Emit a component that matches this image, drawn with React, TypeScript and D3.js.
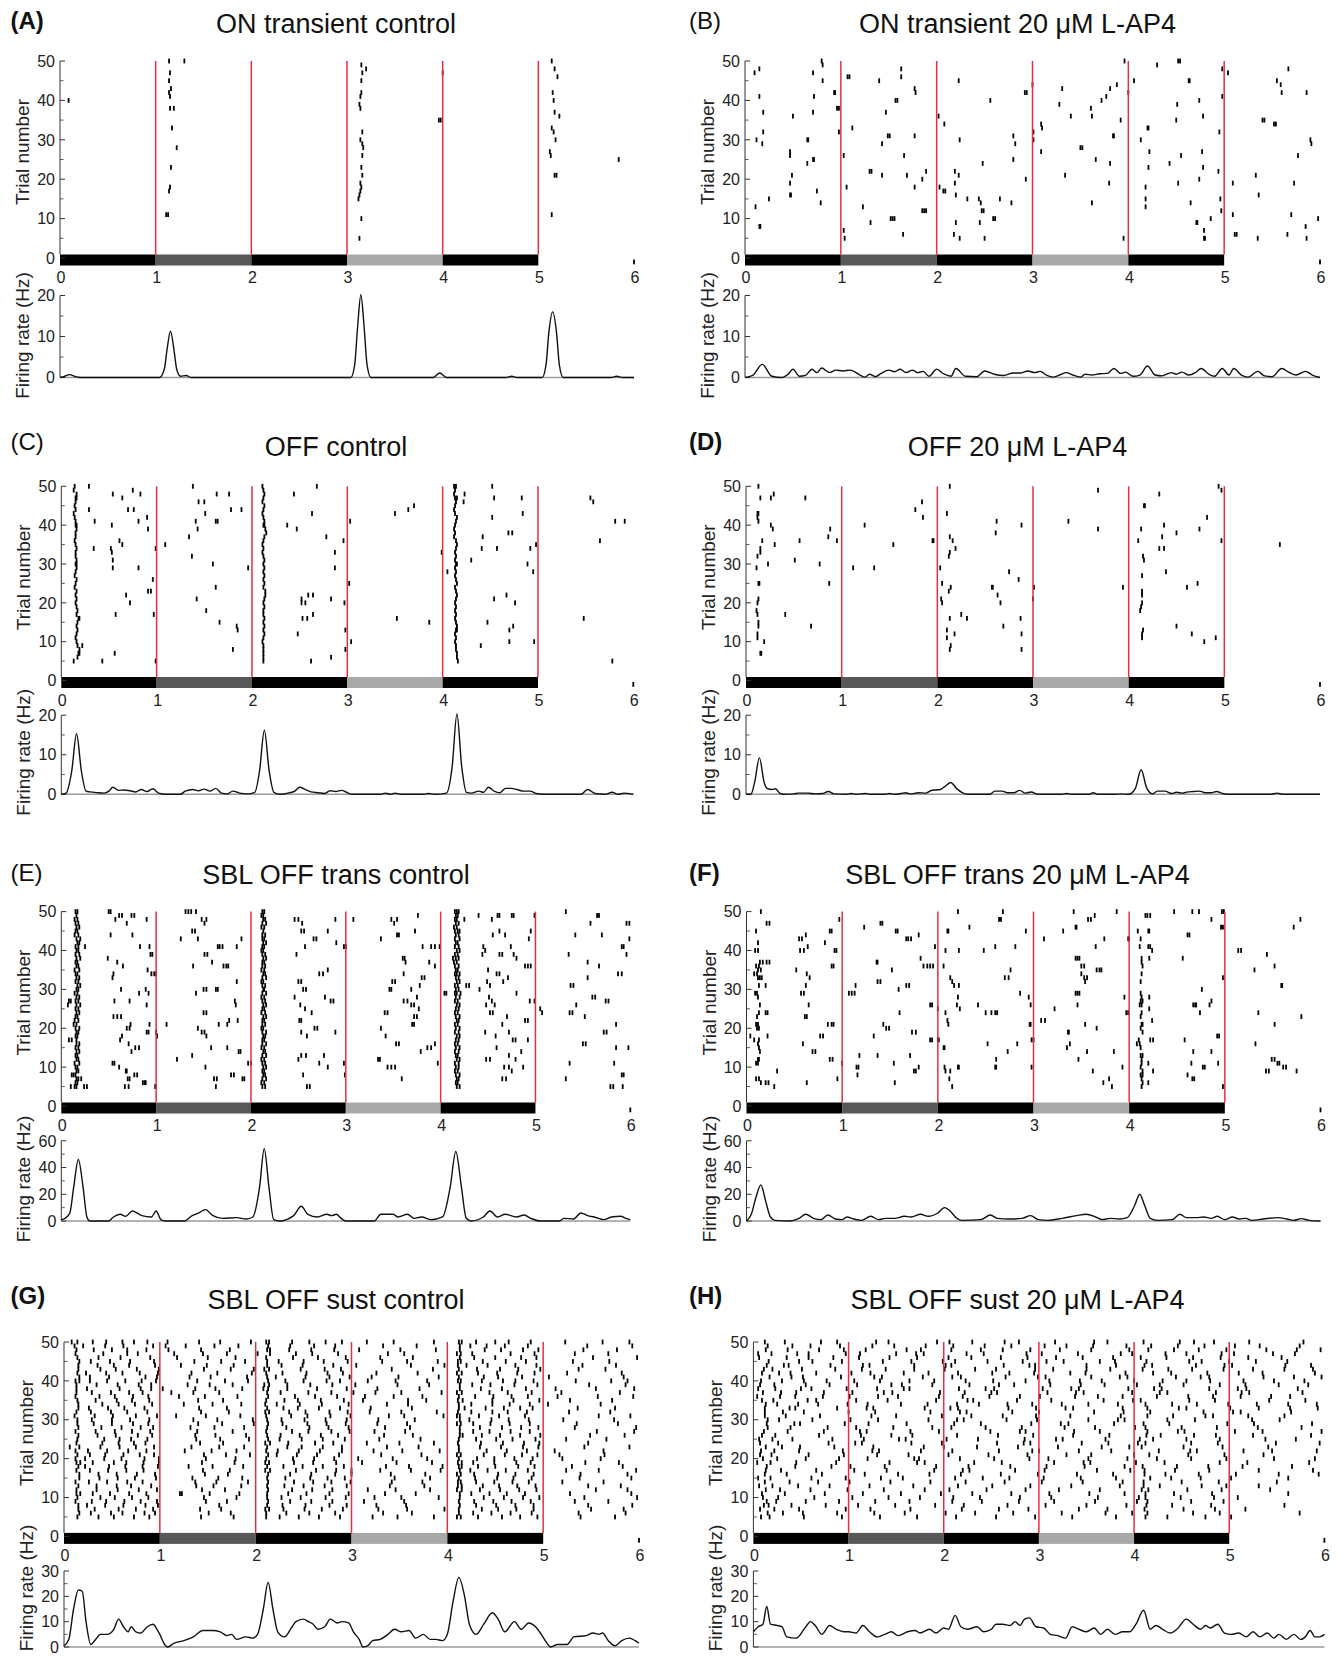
import React from 'react'
import * as d3 from 'd3'

type Pt = [number, number]
type Row = [number, number[]]

// ---------- shared axis values ----------
const timeTicks = [0, 1, 2, 3, 4, 5, 6]
const trialTicks = [0, 10, 20, 30, 40, 50]
const trialMinor = [5, 15, 25, 35, 45]
const stimEdges = [1, 2, 3, 4, 5]
const stimSteps: { from: number; to: number; level: string }[] = [
  { from: 0, to: 1, level: 'dark' },
  { from: 1, to: 2, level: 'mid' },
  { from: 2, to: 3, level: 'dark' },
  { from: 3, to: 4, level: 'light' },
  { from: 4, to: 5, level: 'dark' },
]

// ---------- (A) ON transient control ----------
const spikesA: Pt[] = [
  [0.09, 40], [1.14, 50], [1.3, 50], [1.15, 47], [1.14, 45], [1.16, 43], [1.14, 42], [1.15, 41], [1.15, 38], [1.19, 38],
  [1.17, 33], [1.22, 28], [1.16, 23], [1.15, 18], [1.14, 17], [1.11, 11], [1.13, 11],
  [3.15, 49], [3.2, 48], [3.16, 47], [3.15, 45], [3.15, 42], [3.14, 41], [3.13, 39], [3.14, 38], [3.16, 32], [3.14, 30],
  [3.16, 29], [3.17, 28], [3.16, 26], [3.15, 23], [3.16, 21], [3.14, 19], [3.15, 18], [3.14, 17], [3.13, 16], [3.12, 15],
  [3.15, 10], [3.13, 5], [4.0, 47], [3.96, 35], [3.98, 35],
  [5.14, 50], [5.17, 48], [5.2, 46], [5.15, 42], [5.16, 40], [5.17, 37], [5.22, 36], [5.14, 33], [5.16, 32], [5.18, 30],
  [5.12, 27], [5.13, 26], [5.17, 21], [5.19, 21], [5.14, 11], [5.84, 25], [6.0, -1],
]
const rateA: Pt[] = [
  [0, 0], [0.04, 0.2], [0.1, 0.7], [0.16, 0.2], [0.22, 0], [1.04, 0], [1.09, 2], [1.12, 7], [1.155, 11.3], [1.19, 7],
  [1.22, 2], [1.26, 0.3], [1.32, 0.5], [1.37, 0], [3.04, 0], [3.08, 3], [3.11, 12], [3.145, 20.2], [3.18, 12], [3.21, 3],
  [3.25, 0], [3.9, 0], [3.97, 1.1], [4.04, 0], [4.66, 0], [4.72, 0.3], [4.78, 0], [5.04, 0], [5.08, 3], [5.11, 11],
  [5.15, 16], [5.19, 11], [5.22, 3], [5.26, 0], [5.76, 0], [5.82, 0.3], [5.88, 0], [6, 0],
]

// ---------- (B) ON transient 20 µM L-AP4 ----------
const spikesB: Pt[] = [
  [0.1, 47], [0.15, 48], [0.15, 41], [0.19, 37], [0.19, 32], [0.12, 30], [0.18, 29], [0.11, 13], [0.15, 8], [0.16, 8],
  [0.25, 15], [0.5, 36], [0.47, 27], [0.47, 26], [0.49, 21], [0.47, 19], [0.47, 16], [0.48, 16], [0.65, 30], [0.66, 30],
  [0.65, 24], [0.71, 47], [0.72, 41], [0.71, 37], [0.71, 25], [0.72, 25], [0.75, 17], [0.79, 14], [0.8, 50], [0.81, 49],
  [0.81, 45], [0.93, 42], [0.94, 42], [0.96, 38], [0.98, 38], [0.98, 32], [1.03, 26], [1.07, 46], [1.09, 46], [1.06, 18],
  [1.03, 7], [1.04, 5], [1.12, 33], [1.23, 13], [1.3, 22], [1.32, 22], [1.31, 9], [1.4, 45], [1.47, 37], [1.43, 29],
  [1.49, 31], [1.51, 31], [1.43, 21], [1.52, 10], [1.54, 10], [1.56, 10], [1.57, 40], [1.59, 40], [1.63, 48], [1.63, 46],
  [1.65, 6], [1.66, 26], [1.69, 21], [1.77, 43], [1.78, 42], [1.77, 31], [1.77, 18], [1.85, 20], [1.89, 22], [1.85, 12],
  [1.87, 12], [1.89, 12], [2.02, 36], [2.03, 18], [2.07, 17], [2.09, 17], [2.08, 34], [2.19, 22], [2.19, 19], [2.2, 16],
  [2.2, 9], [2.18, 6], [2.23, 45], [2.24, 30], [2.23, 21], [2.24, 5], [2.32, 15], [2.44, 15], [2.46, 14], [2.48, 24],
  [2.47, 12], [2.49, 12], [2.45, 9], [2.5, 5], [2.56, 40], [2.59, 10], [2.61, 10], [2.66, 15], [2.78, 14], [2.8, 31],
  [2.82, 29], [2.8, 25], [2.93, 20], [2.92, 42], [2.94, 42], [3.0, 44], [3.01, 32], [3.01, 30], [3.09, 34], [3.1, 33],
  [3.09, 27], [3.28, 39], [3.31, 43], [3.34, 21], [3.4, 36], [3.5, 28], [3.52, 28], [3.61, 38], [3.62, 36], [3.62, 14],
  [3.66, 25], [3.72, 40], [3.77, 41], [3.81, 43], [3.88, 44], [3.84, 31], [3.85, 31], [3.81, 24], [3.8, 19], [3.92, 35],
  [3.95, 5], [3.96, 50], [4.0, 42], [4.06, 45], [4.13, 30], [4.2, 33], [4.21, 33], [4.22, 27], [4.21, 23], [4.18, 18],
  [4.18, 15], [4.18, 13], [4.3, 49], [4.43, 24], [4.52, 19], [4.52, 50], [4.54, 50], [4.55, 26], [4.51, 39], [4.5, 35],
  [4.63, 45], [4.64, 45], [4.65, 14], [4.71, 9], [4.72, 9], [4.74, 40], [4.74, 20], [4.77, 27], [4.78, 36], [4.78, 23],
  [4.79, 7], [4.79, 5], [4.8, 5], [4.86, 10], [4.94, 22], [4.95, 32], [4.96, 15], [4.97, 12], [4.98, 48], [4.98, 41],
  [5.04, 47], [5.09, 19], [5.09, 11], [5.11, 6], [5.13, 6], [5.33, 21], [5.35, 5], [5.36, 16], [5.4, 35], [5.42, 35],
  [5.52, 34], [5.54, 34], [5.55, 45], [5.59, 44], [5.6, 42], [5.67, 48], [5.66, 6], [5.7, 11], [5.73, 19], [5.77, 26],
  [5.85, 8], [5.86, 42], [5.86, 5], [5.9, 30], [5.91, 29], [5.98, 10], [6.0, -1],
]
const rateB: Pt[] = [
  [0, 0], [0.08, 0.5], [0.18, 3.2], [0.28, 0.3], [0.38, 0], [0.45, 0.8], [0.5, 2], [0.57, 0.3], [0.63, 0.5], [0.7, 2],
  [0.75, 1.2], [0.8, 2.3], [0.88, 1.2], [0.95, 1.8], [1.02, 1.6], [1.1, 1.8], [1.2, 0.6], [1.25, 0.1], [1.3, 0.8], [1.36, 0.2],
  [1.42, 1], [1.5, 1.8], [1.56, 1.4], [1.62, 2], [1.68, 1.2], [1.75, 1.8], [1.8, 1.2], [1.86, 1.5], [1.92, 0.3], [2.0, 2],
  [2.08, 0.8], [2.15, 0.3], [2.2, 2.2], [2.3, 0.3], [2.42, 0.2], [2.5, 1.6], [2.6, 0.8], [2.7, 0.5], [2.8, 1.1], [2.88, 1.1],
  [2.95, 1.6], [3.02, 1.2], [3.08, 1.5], [3.15, 0.5], [3.22, 0.1], [3.3, 0.8], [3.35, 1.2], [3.42, 0.6], [3.5, 0.1], [3.55, 0.8],
  [3.62, 0.6], [3.7, 0.9], [3.78, 1], [3.85, 2.2], [3.92, 1], [3.97, 1.3], [4.05, 0.3], [4.12, 0.6], [4.2, 2.8], [4.28, 0.6],
  [4.35, 0.4], [4.45, 1.2], [4.5, 0.8], [4.56, 1.3], [4.63, 0.6], [4.7, 1.2], [4.76, 2.2], [4.84, 0.8], [4.9, 0.3], [4.98, 2.2],
  [5.05, 0.6], [5.1, 2.2], [5.18, 0.6], [5.25, 0.1], [5.35, 1.5], [5.42, 0.4], [5.5, 0.2], [5.6, 2.2], [5.68, 1.2], [5.75, 0.6],
  [5.85, 1.5], [5.92, 0.6], [6, 0],
]

// ---------- (C) OFF control ----------
const spikesC: Pt[] = [
  [0.29, 50], [0.54, 48], [0.64, 47], [0.75, 49], [0.83, 48], [0.29, 44], [0.7, 44], [0.76, 44], [0.35, 41], [0.53, 40],
  [0.81, 41], [0.9, 42], [0.91, 39], [0.61, 36], [0.64, 35], [0.34, 34], [0.52, 34], [0.53, 33], [0.54, 31], [0.54, 29],
  [0.81, 29], [0.96, 26], [0.91, 23], [0.94, 23], [0.68, 22], [0.72, 20], [0.57, 17], [0.22, 9], [0.56, 7], [0.43, 5],
  [0.97, 17], [0.99, 34], [0.99, 5], [1.09, 35], [1.38, 50], [1.63, 48], [1.76, 48], [1.44, 46], [1.5, 46], [1.51, 43],
  [1.78, 44], [1.89, 44], [1.62, 41], [1.64, 41], [1.41, 41], [1.43, 39], [1.34, 37], [1.37, 32], [1.59, 30], [1.62, 24],
  [1.42, 21], [1.52, 18], [1.66, 15], [1.85, 13], [1.84, 14], [1.8, 8], [1.96, 29], [2.37, 40], [2.44, 48], [2.47, 39],
  [2.63, 43], [2.68, 50], [2.78, 37], [2.87, 33], [2.87, 29], [2.96, 36], [2.59, 22], [2.64, 22], [2.52, 21], [2.52, 20],
  [2.56, 20], [2.83, 21], [2.53, 16], [2.58, 16], [2.64, 17], [2.48, 12], [2.62, 5], [2.83, 6], [2.97, 20], [2.98, 13],
  [3.03, 41], [3.02, 25], [3.04, 10], [2.98, 8], [3.5, 43], [3.64, 44], [3.7, 45], [3.52, 16], [3.86, 15], [3.99, 33],
  [4.05, 28], [4.23, 48], [4.22, 46], [4.52, 50], [4.54, 47], [4.52, 42], [4.83, 47], [4.84, 43], [4.42, 37], [4.41, 34],
  [4.57, 34], [4.69, 38], [4.73, 38], [4.3, 31], [4.89, 30], [4.95, 28], [4.92, 34], [4.98, 35], [4.54, 21], [4.67, 22],
  [4.76, 20], [4.47, 15], [4.7, 13], [4.74, 14], [4.7, 10], [4.96, 10], [4.4, 9], [5.55, 47], [5.58, 46], [5.65, 36],
  [5.81, 41], [5.91, 41], [5.48, 16], [5.78, 5], [6.0, -1],
]
const burstsC: Row[] = [
  [50, [0.14, 2.11, 4.12, 4.14]], [49, [0.13, 2.12, 4.13]], [48, [0.16, 2.13, 4.12]], [47, [0.15, 0.16, 2.12, 4.13, 4.15]],
  [46, [0.15, 2.11, 4.14]], [45, [0.14, 2.13, 4.13]], [44, [0.15, 2.12, 4.12]], [43, [0.13, 2.11, 4.13]],
  [42, [0.14, 2.12, 4.15]], [41, [0.15, 2.13, 4.14]], [40, [0.15, 0.16, 2.12, 2.13, 4.13]], [39, [0.16, 2.14, 4.12]],
  [38, [0.15, 2.15, 4.13]], [37, [0.15, 2.13, 4.12]], [36, [0.14, 2.12, 4.14]], [35, [0.15, 2.11, 4.15]],
  [34, [0.16, 2.12, 4.14]], [33, [0.15, 2.11, 4.13]], [32, [0.15, 2.12, 4.14]], [31, [0.16, 2.13, 4.13]],
  [30, [0.15, 0.16, 2.12, 4.14, 4.15]], [29, [0.16, 2.13, 4.13]], [28, [0.15, 2.12, 4.14]], [27, [0.14, 2.13, 4.13]],
  [26, [0.16, 2.12, 4.14]], [25, [0.15, 2.13, 4.15]], [24, [0.14, 2.12, 4.13]], [23, [0.16, 2.14, 4.14]],
  [22, [0.15, 2.14, 4.15]], [21, [0.16, 2.13, 4.14]], [20, [0.15, 2.12, 4.13]], [19, [0.16, 2.13, 4.14]],
  [18, [0.17, 2.12, 4.13]], [17, [0.16, 2.12, 4.14]], [16, [0.18, 0.19, 2.13, 4.13]], [15, [0.17, 2.12, 4.14]],
  [14, [0.16, 2.13, 4.15]], [13, [0.17, 2.12, 4.14, 4.15]], [12, [0.16, 2.13, 4.13]], [11, [0.15, 2.12, 4.14]],
  [10, [0.16, 2.11, 4.13]], [9, [0.17, 2.12, 4.14]], [8, [0.19, 2.12, 4.14]], [7, [0.18, 0.19, 2.12, 4.15]],
  [6, [0.17, 2.12, 4.15]], [5, [0.13, 2.12, 4.16]],
]
const rateC: Pt[] = [
  [0, 0], [0.05, 0.3], [0.11, 6], [0.16, 15.3], [0.21, 6], [0.26, 0.8], [0.3, 0.6], [0.38, 0.4], [0.45, 0.3], [0.5, 0.8],
  [0.54, 1.8], [0.6, 1.0], [0.66, 1.1], [0.72, 0.9], [0.78, 0.6], [0.84, 1.2], [0.9, 0.7], [0.96, 1.4], [1.02, 0.3], [1.1, 0],
  [1.25, 0], [1.3, 0.8], [1.38, 1.2], [1.44, 0.9], [1.5, 1.3], [1.56, 0.8], [1.62, 1.5], [1.68, 0.3], [1.74, 0.1], [1.8, 0.8],
  [1.87, 0.3], [1.95, 0.1], [2.03, 0.5], [2.08, 6], [2.13, 16.2], [2.18, 6], [2.23, 0.5], [2.3, 0], [2.38, 0.3], [2.45, 0.8],
  [2.5, 1.8], [2.56, 1.2], [2.62, 0.6], [2.7, 0.4], [2.76, 0.2], [2.82, 0.9], [2.88, 0.7], [2.94, 1.0], [3.0, 0.4], [3.05, 0],
  [3.35, 0], [3.4, 0.3], [3.46, 0], [3.5, 0.3], [3.56, 0], [3.8, 0], [3.85, 0.2], [3.92, 0], [4.04, 0.3], [4.1, 7],
  [4.15, 20.3], [4.2, 7], [4.25, 0.5], [4.3, 0.3], [4.38, 0.8], [4.43, 0.5], [4.48, 1.8], [4.54, 0.8], [4.6, 0.4], [4.66, 1.5],
  [4.72, 1.5], [4.78, 1.2], [4.85, 0.8], [4.92, 0.8], [4.98, 0.2], [5.05, 0], [5.45, 0], [5.52, 1.2], [5.6, 0.2], [5.7, 0],
  [5.78, 0.5], [5.84, 0], [5.9, 0.3], [6.0, 0],
]

// ---------- (D) OFF 20 µM L-AP4 ----------
const spikesD: Pt[] = [
  [0.13, 50], [0.15, 47], [0.12, 43], [0.13, 43], [0.12, 42], [0.13, 41], [0.17, 36], [0.15, 34], [0.15, 33], [0.12, 32],
  [0.11, 29], [0.13, 25], [0.14, 25], [0.13, 21], [0.12, 20], [0.11, 18], [0.12, 17], [0.13, 15], [0.13, 14], [0.12, 12],
  [0.12, 11], [0.15, 7], [0.16, 7], [0.19, 10], [0.29, 48], [0.26, 47], [0.26, 40], [0.28, 39], [0.3, 35], [0.23, 30],
  [0.56, 36], [0.51, 31], [0.62, 47], [0.77, 30], [0.87, 25], [0.86, 37], [0.88, 39], [0.95, 36], [0.41, 17], [0.68, 14],
  [1.12, 29], [1.24, 40], [1.34, 29], [1.54, 35], [1.77, 44], [1.84, 46], [1.85, 42], [1.95, 36], [1.96, 36],
  [2.13, 50], [2.1, 43], [2.13, 37], [2.16, 36], [2.19, 34], [2.13, 33], [2.12, 32], [2.03, 29], [2.05, 25], [2.14, 24],
  [2.12, 23], [2.05, 20], [2.04, 21], [2.13, 16], [2.1, 13], [2.1, 11], [2.14, 9], [2.13, 8], [2.18, 12], [2.25, 17],
  [2.31, 16], [2.62, 41], [2.61, 38], [2.88, 40], [2.75, 28], [2.85, 26], [2.57, 24], [2.58, 24], [2.63, 22], [2.66, 20],
  [2.69, 14], [2.87, 16], [2.88, 12], [2.88, 8], [3.01, 24], [3.0, 21], [3.37, 41], [3.68, 49], [3.68, 39], [3.94, 24],
  [4.16, 45], [4.17, 45], [4.13, 39], [4.1, 36], [4.15, 32], [4.16, 31], [4.14, 27], [4.14, 23], [4.14, 22], [4.14, 20],
  [4.13, 19], [4.12, 18], [4.15, 13], [4.14, 12], [4.14, 11], [4.32, 48], [4.37, 40], [4.35, 37], [4.32, 34], [4.37, 34],
  [4.39, 28], [4.5, 38], [4.5, 14], [4.66, 12], [4.72, 25], [4.61, 24], [4.74, 39], [4.82, 42], [4.79, 10], [4.91, 11],
  [4.94, 50], [4.97, 49], [4.97, 36], [5.58, 35], [6.0, -1],
]
const rateD: Pt[] = [
  [0, 0], [0.05, 0], [0.09, 3], [0.14, 9.2], [0.19, 3], [0.22, 1.5], [0.27, 1.2], [0.31, 1.4], [0.35, 0.3], [0.4, 0],
  [0.5, 0.1], [0.55, 0.3], [0.65, 0.3], [0.72, 0.1], [0.8, 0.2], [0.86, 0.7], [0.92, 0.1], [1.05, 0], [1.1, 0.2], [1.15, 0],
  [1.25, 0.2], [1.3, 0], [1.45, 0], [1.5, 0.2], [1.55, 0], [1.62, 0.2], [1.67, 0.4], [1.72, 0.1], [1.8, 0.4], [1.88, 0.3],
  [1.93, 0.9], [1.98, 1.1], [2.03, 1.2], [2.07, 1.8], [2.14, 3.0], [2.2, 1.5], [2.26, 0.4], [2.32, 0], [2.55, 0], [2.6, 0.8],
  [2.68, 0.8], [2.73, 0.4], [2.8, 0.4], [2.86, 1.0], [2.92, 0.3], [2.98, 0.6], [3.05, 0], [3.3, 0], [3.35, 0.2], [3.4, 0],
  [3.58, 0], [3.63, 0.4], [3.68, 0], [3.85, 0], [3.92, 0.1], [4.0, 0], [4.07, 1.5], [4.13, 6.2], [4.19, 1.5], [4.25, 0.1],
  [4.3, 0.8], [4.38, 0.8], [4.45, 0.2], [4.5, 0.5], [4.56, 0.3], [4.62, 0.6], [4.68, 0.7], [4.74, 0.8], [4.8, 0.4], [4.86, 0.4],
  [4.92, 0.7], [4.97, 0.3], [5.02, 0], [5.48, 0], [5.55, 0.3], [5.62, 0], [6, 0],
]

// ---------- (E) SBL OFF trans control ----------
const spikesE: Pt[] = [
  [0.5, 50], [0.52, 50], [0.61, 49], [0.64, 49], [0.74, 49], [0.77, 49], [0.9, 48], [0.57, 48], [0.69, 47], [0.52, 44],
  [0.75, 44], [0.83, 41], [0.93, 41], [0.94, 39], [0.96, 39], [0.49, 38], [0.59, 37], [0.65, 36], [0.55, 34], [0.91, 35],
  [0.95, 34], [0.98, 34], [0.54, 33], [0.63, 30], [0.89, 30], [0.92, 29], [0.82, 29], [0.56, 27], [0.72, 27], [0.55, 23],
  [0.59, 23], [0.63, 23], [0.9, 26], [0.73, 21], [0.69, 20], [0.72, 20], [0.93, 21], [0.9, 19], [0.92, 19], [0.64, 18],
  [0.62, 17], [0.71, 16], [0.78, 15], [0.82, 15], [0.74, 14], [0.54, 11], [0.56, 11], [0.61, 10], [0.68, 9], [0.69, 9],
  [0.77, 8], [0.8, 8], [0.7, 7], [0.72, 7], [0.86, 6], [0.88, 6], [0.67, 5], [0.71, 5], [0.89, 6], [0.24, 5],
  [0.27, 5], [0.1, 5], [0.99, 5], [1.0, 34], [1.0, 19], [1.01, 18],
  [1.31, 50], [1.34, 50], [1.37, 50], [1.42, 50], [1.48, 48], [1.53, 48], [1.51, 47], [1.38, 45], [1.41, 45], [1.26, 43],
  [1.44, 43], [1.65, 41], [1.67, 41], [1.7, 41], [1.85, 41], [1.9, 43], [1.51, 39], [1.54, 39], [1.59, 37], [1.39, 36],
  [1.71, 36], [1.74, 36], [1.76, 36], [1.85, 32], [1.5, 30], [1.53, 30], [1.63, 30], [1.65, 30], [1.42, 29], [1.83, 27],
  [1.84, 26], [1.5, 24], [1.53, 24], [1.66, 21], [1.75, 21], [1.77, 22], [1.86, 22], [1.44, 20], [1.48, 19], [1.51, 19],
  [1.53, 18], [1.11, 21], [1.22, 12], [1.38, 13], [1.58, 15], [1.75, 15], [1.87, 14], [1.89, 14], [1.52, 10], [1.61, 7],
  [1.64, 7], [1.79, 8], [1.82, 8], [1.91, 7], [1.93, 7], [1.63, 5], [1.97, 11], [2.0, 11],
  [2.46, 48], [2.5, 48], [2.54, 47], [2.53, 45], [2.56, 45], [2.66, 43], [2.69, 43], [2.81, 45], [2.89, 48], [2.9, 42],
  [2.98, 41], [2.48, 39], [2.57, 41], [2.72, 34], [2.76, 34], [2.81, 35], [2.5, 32], [2.53, 32], [2.55, 30], [2.58, 30],
  [2.46, 28], [2.52, 26], [2.78, 28], [2.84, 27], [2.87, 27], [2.57, 25], [2.64, 24], [2.51, 22], [2.53, 22], [2.53, 19],
  [2.59, 18], [2.67, 20], [2.7, 20], [2.89, 19], [2.5, 12], [2.53, 13], [2.58, 13], [2.72, 11], [2.81, 10], [2.77, 13],
  [2.98, 11], [2.55, 8], [2.59, 5], [2.62, 5], [2.99, 8], [3.0, 41],
  [3.08, 48], [3.48, 48], [3.51, 47], [3.54, 48], [3.76, 49], [3.73, 45], [3.54, 44], [3.56, 44], [3.37, 43], [3.81, 41],
  [3.9, 41], [3.94, 41], [3.6, 38], [3.62, 38], [3.63, 37], [3.88, 37], [3.94, 36], [3.61, 34], [3.8, 33], [3.83, 33],
  [3.49, 32], [3.52, 32], [3.78, 31], [3.46, 30], [3.48, 30], [3.69, 30], [3.75, 28], [3.61, 27], [3.65, 27], [3.69, 26],
  [3.72, 26], [3.77, 25], [3.41, 24], [3.44, 24], [3.72, 23], [3.75, 23], [3.7, 21], [3.72, 21], [3.37, 20], [3.42, 18],
  [3.53, 16], [3.56, 16], [3.79, 14], [3.86, 15], [3.9, 15], [3.94, 16], [3.34, 12], [3.36, 12], [3.44, 10], [3.48, 10],
  [3.52, 10], [3.59, 7], [3.97, 11], [3.99, 41], [4.04, 29], [4.06, 29],
  [4.25, 48], [4.4, 49], [4.54, 48], [4.6, 49], [4.62, 49], [4.75, 49], [4.77, 49], [4.62, 45], [4.55, 44], [4.68, 44],
  [4.45, 41], [4.74, 41], [4.93, 43], [4.95, 45], [4.44, 39], [4.47, 40], [4.62, 39], [4.65, 39], [4.77, 39], [4.8, 38],
  [4.89, 36], [4.92, 36], [4.95, 36], [4.5, 35], [4.59, 34], [4.62, 34], [4.49, 32], [4.71, 33], [4.27, 31], [4.3, 31],
  [4.41, 30], [4.52, 31], [4.66, 32], [4.8, 29], [4.51, 28], [4.54, 27], [4.57, 26], [4.94, 27], [4.99, 27], [4.48, 26],
  [4.52, 24], [4.55, 24], [4.7, 23], [4.89, 22], [4.92, 22], [4.65, 21], [4.47, 19], [4.72, 19], [4.58, 18], [4.76, 17],
  [4.79, 17], [4.92, 17], [4.59, 15], [4.85, 14], [4.48, 12], [4.52, 12], [4.72, 13], [4.79, 12], [4.67, 10], [4.72, 10],
  [4.75, 9], [4.87, 10], [4.65, 7], [4.69, 7], [4.99, 49],
  [5.32, 50], [5.65, 49], [5.67, 49], [5.96, 47], [5.99, 47], [5.58, 47], [5.42, 44], [5.7, 44], [5.99, 43], [5.91, 41],
  [5.93, 41], [5.96, 39], [5.35, 39], [5.55, 37], [5.67, 36], [5.87, 34], [5.91, 34], [5.55, 33], [5.37, 31], [5.4, 31],
  [5.6, 28], [5.63, 28], [5.74, 27], [5.77, 27], [5.43, 26], [5.36, 24], [5.39, 24], [5.52, 23], [5.85, 21], [5.72, 19],
  [5.75, 19], [5.5, 16], [5.53, 16], [5.85, 15], [5.98, 15], [5.36, 11], [5.83, 11], [5.91, 8], [5.93, 8], [5.32, 7],
  [5.79, 5], [5.82, 5], [5.92, 5], [5.05, 25], [5.07, 24], [6.0, -1],
]
const burstsE: Row[] = [
  [50, [0.15, 0.17, 2.12, 2.14, 4.15, 4.17, 4.19]], [49, [0.16, 2.11, 2.13, 4.16, 4.18]], [48, [0.14, 0.17, 2.13, 2.15, 4.15, 4.17]],
  [47, [0.15, 0.18, 2.12, 2.16, 4.16, 4.19]], [46, [0.16, 0.19, 2.11, 2.14, 4.14, 4.17]], [45, [0.15, 0.17, 2.13, 4.15, 4.18, 4.2]],
  [44, [0.14, 0.18, 2.12, 2.15, 4.16, 4.19]], [43, [0.16, 0.2, 2.12, 2.14, 4.15, 4.2]], [42, [0.17, 0.19, 2.13, 2.16, 4.16, 4.18]],
  [41, [0.15, 0.18, 0.25, 2.12, 2.14, 4.15, 4.19]], [40, [0.16, 0.18, 2.11, 2.13, 4.17, 4.2]], [39, [0.15, 0.19, 2.12, 2.15, 4.15, 4.18]],
  [38, [0.16, 0.2, 2.13, 2.16, 4.13, 4.16, 4.19]], [37, [0.15, 0.17, 2.12, 2.14, 4.14, 4.17]], [36, [0.16, 0.18, 2.12, 2.15, 4.15, 4.19]],
  [35, [0.14, 0.19, 2.11, 2.14, 4.16, 4.18]], [34, [0.15, 0.17, 2.13, 2.15, 4.15, 4.17, 4.2]], [33, [0.16, 0.19, 2.12, 2.16, 4.16, 4.19]],
  [32, [0.15, 0.18, 2.11, 2.13, 4.17, 4.2]], [31, [0.17, 0.2, 2.12, 2.15, 4.15, 4.18]], [30, [0.16, 0.18, 2.13, 2.14, 4.16, 4.19]],
  [29, [0.14, 0.17, 2.12, 2.16, 4.15, 4.17, 4.21]], [28, [0.16, 0.19, 2.11, 2.14, 4.16, 4.2]], [27, [0.08, 0.1, 0.15, 0.18, 2.12, 2.15, 4.15, 4.18]],
  [26, [0.07, 0.16, 0.2, 2.13, 2.16, 4.17, 4.2]], [25, [0.15, 0.18, 2.12, 2.14, 4.16, 4.19]], [24, [0.16, 0.19, 2.11, 2.15, 4.15, 4.18]],
  [23, [0.15, 0.17, 2.13, 2.16, 4.16, 4.2]], [22, [0.14, 0.18, 2.12, 2.14, 4.17, 4.19]], [21, [0.13, 0.16, 2.12, 2.15, 4.15, 4.18]],
  [20, [0.15, 0.19, 2.11, 2.13, 4.16, 4.2]], [19, [0.16, 0.18, 2.12, 2.16, 4.15, 4.19]], [18, [0.15, 0.17, 2.13, 2.15, 4.17, 4.2]],
  [17, [0.08, 0.11, 0.16, 2.12, 2.14, 4.16, 4.19]], [16, [0.16, 0.19, 2.12, 2.16, 4.15, 4.18]], [15, [0.15, 0.18, 2.11, 2.14, 4.16, 4.2]],
  [14, [0.16, 0.19, 2.13, 2.15, 4.15, 4.19]], [13, [0.15, 0.17, 2.12, 2.16, 4.16, 4.18]], [12, [0.16, 0.18, 2.11, 2.14, 4.17, 4.2]],
  [11, [0.14, 0.19, 2.12, 2.15, 4.15, 4.19]], [10, [0.15, 0.17, 2.13, 2.16, 4.16, 4.19]], [9, [0.16, 0.18, 2.12, 2.14, 4.15, 4.18]],
  [8, [0.11, 0.13, 0.15, 2.13, 2.15, 4.16, 4.2]], [7, [0.16, 0.18, 0.21, 2.12, 2.16, 4.17, 4.19]], [6, [0.15, 0.17, 2.11, 2.14, 4.16, 4.18]],
  [5, [0.14, 0.16, 2.12, 2.15, 4.17, 4.2]],
]
const rateE: Pt[] = [
  [0, 1], [0.04, 2], [0.09, 6], [0.13, 25], [0.18, 46], [0.23, 25], [0.27, 3], [0.3, 0], [0.5, 0], [0.55, 3],
  [0.62, 5], [0.68, 3.5], [0.75, 7.5], [0.85, 4], [0.95, 3], [1.0, 7.5], [1.05, 1], [1.1, 0], [1.3, 0], [1.38, 4],
  [1.45, 6], [1.52, 8.5], [1.6, 4], [1.7, 2], [1.85, 2.5], [1.95, 1.5], [2.02, 3], [2.09, 25], [2.14, 54], [2.19, 25],
  [2.24, 1], [2.3, 0], [2.45, 4], [2.53, 11], [2.6, 5], [2.7, 3], [2.8, 5], [2.85, 4], [2.9, 5], [2.95, 2],
  [3.0, 0], [3.3, 0], [3.37, 5], [3.5, 5], [3.55, 3], [3.65, 5], [3.72, 2], [3.8, 3], [3.9, 1], [4.02, 3],
  [4.1, 25], [4.16, 52], [4.22, 25], [4.27, 2], [4.32, 0], [4.45, 3], [4.52, 7.5], [4.6, 3], [4.68, 5], [4.8, 3],
  [4.88, 4.5], [4.95, 2], [5.05, 0], [5.25, 0], [5.3, 2], [5.4, 1.5], [5.48, 6], [5.55, 4], [5.62, 3], [5.72, 1],
  [5.8, 3], [5.9, 3.5], [5.95, 2], [6.0, 1],
]

// ---------- (F) SBL OFF trans 20 µM L-AP4 ----------
const spikesF: Pt[] = [
  [0.21, 47], [0.24, 47], [0.21, 37], [0.24, 37], [0.2, 31], [0.2, 24], [0.22, 24], [0.22, 18], [0.04, 18], [0.15, 50],
  [0.2, 6], [0.23, 6], [0.29, 5], [0.32, 9],
  [0.52, 35], [0.55, 43], [0.58, 43], [0.62, 44], [0.56, 40], [0.6, 40], [0.64, 41], [0.63, 34], [0.66, 33], [0.62, 31],
  [0.57, 29], [0.6, 29], [0.65, 26], [0.61, 23], [0.63, 23], [0.59, 16], [0.69, 14], [0.72, 14], [0.63, 6], [0.77, 18],
  [0.8, 18], [0.82, 42], [0.87, 45], [0.89, 45], [0.92, 40], [0.94, 40], [0.89, 36], [0.91, 36], [0.85, 21], [0.89, 21],
  [0.91, 21], [0.87, 12], [0.9, 12], [0.95, 7], [0.97, 48], [1.0, 11],
  [1.07, 29], [1.1, 29], [1.13, 29], [1.14, 31], [1.15, 10], [1.17, 10], [1.16, 8], [1.18, 13], [1.23, 46], [1.37, 13],
  [1.36, 37], [1.37, 37], [1.37, 32], [1.4, 32], [1.33, 18], [1.4, 47], [1.42, 47], [1.43, 21], [1.46, 20], [1.49, 20],
  [1.52, 35], [1.54, 11], [1.55, 6], [1.56, 45], [1.58, 45], [1.59, 30], [1.6, 24], [1.67, 31], [1.7, 31], [1.67, 43],
  [1.69, 43], [1.72, 43], [1.8, 44], [1.73, 19], [1.77, 19], [1.71, 13], [1.75, 9], [1.77, 9], [1.8, 10], [1.82, 38],
  [1.85, 36], [1.89, 36], [1.92, 36], [1.95, 36], [1.92, 17], [1.94, 17], [1.97, 41], [1.92, 26], [1.94, 26], [2.0, 25],
  [2.0, 17], [2.01, 17],
  [2.06, 36], [2.08, 40], [2.1, 45], [2.11, 45], [2.13, 33], [2.15, 32], [2.17, 31], [2.21, 28], [2.2, 26], [2.06, 15],
  [2.07, 15], [2.08, 24], [2.1, 22], [2.11, 21], [2.07, 10], [2.08, 9], [2.12, 7], [2.15, 5], [2.13, 9], [2.21, 10],
  [2.22, 10], [2.21, 50], [2.33, 46], [2.42, 26], [2.22, 40], [2.22, 31], [2.23, 25], [2.48, 40], [2.5, 24], [2.52, 16],
  [2.56, 24], [2.6, 24], [2.62, 24], [2.6, 41], [2.6, 10], [2.61, 10], [2.61, 12], [2.64, 48], [2.66, 48], [2.68, 50],
  [2.7, 33], [2.74, 33], [2.73, 14], [2.76, 35], [2.81, 41], [2.83, 16], [2.86, 29], [2.92, 45], [2.95, 28], [2.97, 26],
  [2.96, 21], [2.97, 21], [2.98, 17], [3.0, 17], [2.98, 10],
  [3.11, 43], [3.08, 22], [3.12, 22], [3.22, 25], [3.31, 45], [3.36, 19], [3.37, 19], [3.35, 15], [3.38, 16], [3.42, 50],
  [3.44, 46], [3.45, 46], [3.47, 12], [3.44, 38], [3.46, 38], [3.48, 38], [3.44, 29], [3.46, 29], [3.48, 29], [3.46, 26],
  [3.5, 36], [3.53, 36], [3.5, 34], [3.53, 33], [3.56, 33], [3.54, 32], [3.54, 21], [3.56, 14], [3.57, 48], [3.6, 48],
  [3.64, 49], [3.62, 9], [3.65, 41], [3.66, 20], [3.66, 35], [3.69, 35], [3.71, 35], [3.73, 6], [3.79, 7], [3.82, 5],
  [3.74, 43], [3.84, 14], [3.87, 50], [3.93, 10], [3.95, 28], [3.97, 24], [3.99, 24], [3.99, 43], [4.0, 43],
  [4.17, 49], [4.19, 49], [4.22, 49], [4.2, 41], [4.22, 41], [4.2, 45], [4.21, 45], [4.21, 38], [4.24, 40], [4.21, 28],
  [4.21, 25], [4.24, 22], [4.22, 17], [4.25, 17], [4.2, 11], [4.25, 9], [4.2, 6], [4.47, 50], [4.56, 38], [4.58, 17],
  [4.61, 44], [4.63, 44], [4.66, 50], [4.67, 26], [4.69, 26], [4.7, 26], [4.67, 14], [4.65, 11], [4.61, 8], [4.66, 7],
  [4.68, 7], [4.73, 50], [4.74, 24], [4.76, 30], [4.77, 10], [4.79, 10], [4.84, 26], [4.86, 27], [4.86, 14], [4.86, 48],
  [4.92, 18], [4.94, 18], [4.93, 11], [4.97, 50], [4.99, 50], [4.96, 46], [4.98, 46], [4.98, 5], [4.98, 33],
  [5.14, 40], [5.17, 40], [5.31, 35], [5.32, 16], [5.35, 24], [5.44, 39], [5.52, 36], [5.52, 21], [5.49, 12], [5.52, 12],
  [5.43, 9], [5.46, 9], [5.55, 11], [5.57, 11], [5.61, 10], [5.64, 10], [5.59, 31], [5.6, 31], [5.72, 46], [5.75, 9],
  [5.79, 48], [5.8, 23], [6.0, -1],
]
const burstsF: Row[] = [
  [45, [0.1, 4.09]], [43, [4.12]], [42, [0.12]], [41, [4.11]], [40, [0.09, 0.12]], [38, [4.13]], [37, [0.14, 0.17, 4.13]],
  [36, [0.1, 0.13, 4.14]], [35, [0.12, 0.15]], [34, [0.08, 0.11, 4.13]], [33, [0.12, 0.14, 0.16]], [32, [4.12]], [31, [0.13]],
  [29, [0.09, 0.11, 4.12]], [28, [0.12, 4.13]], [27, [4.12, 4.14]], [26, [0.14, 4.11, 4.13]], [24, [0.13, 4.13]], [23, [0.11, 4.12]],
  [21, [0.1, 0.12, 4.13, 4.14]], [20, [0.11, 0.13, 4.12]], [19, [4.14]], [17, [0.08, 0.13, 4.1]], [16, [0.12, 4.08, 4.11]],
  [15, [0.13, 4.12]], [14, [0.14]], [13, [4.12, 4.14]], [12, [0.12, 0.13, 4.13]], [11, [0.1, 0.12, 4.13]], [10, [4.12]],
  [9, [4.14]], [8, [4.12, 4.14]], [7, [0.1, 0.13, 4.13]], [6, [0.15, 4.14]], [5, [4.13]],
]
const rateF: Pt[] = [
  [0, 0], [0.05, 5], [0.1, 18], [0.15, 27], [0.2, 15], [0.25, 3], [0.3, 0.5], [0.45, 0], [0.55, 2], [0.62, 5],
  [0.7, 2], [0.78, 1], [0.85, 4.5], [0.93, 1.5], [1.0, 1], [1.05, 3], [1.12, 1.5], [1.2, 0.5], [1.3, 3.5], [1.38, 1],
  [1.45, 2], [1.55, 2], [1.65, 3.5], [1.72, 3], [1.82, 5], [1.9, 3.5], [2.0, 6], [2.07, 10], [2.12, 8], [2.2, 2],
  [2.25, 0.5], [2.45, 1], [2.55, 4.5], [2.62, 2], [2.75, 1.5], [2.88, 2], [2.97, 4], [3.05, 1], [3.15, 0.5], [3.3, 2],
  [3.45, 4], [3.55, 5], [3.65, 3], [3.72, 1], [3.8, 2], [3.9, 1.5], [3.98, 2.5], [4.06, 12], [4.11, 20], [4.16, 12],
  [4.22, 2], [4.3, 0.5], [4.45, 1], [4.53, 5], [4.6, 2.5], [4.7, 2.5], [4.78, 3], [4.86, 2], [4.92, 3.5], [5.0, 1],
  [5.08, 3], [5.15, 1.5], [5.22, 2], [5.28, 0.5], [5.4, 1.5], [5.55, 2.5], [5.65, 1.5], [5.72, 0.5], [5.8, 1.8], [5.88, 0.5],
  [6.0, 0],
]

// ---------- (G) SBL OFF sust control ----------
const spikesG: Pt[] = [[6.0, -1]]
const rowsG: Row[] = [
  [50, [0.08, 0.14, 0.3, 0.44, 0.61, 0.73, 0.87, 1.08, 1.41, 1.63, 1.95, 2.11, 2.14, 2.38, 2.56, 2.73, 2.9, 3.16, 3.44, 3.86, 4.12, 4.15, 4.3, 4.5, 4.64, 4.87, 5.23, 5.62, 5.9]],
  [44, [0.15, 0.35, 0.52, 0.68, 0.95, 1.22, 1.49, 1.77, 2.12, 2.27, 2.49, 2.81, 3.05, 3.62, 3.97, 4.11, 4.2, 4.42, 4.71, 4.93, 5.41, 5.76]],
  [38, [0.13, 0.24, 0.58, 0.8, 0.91, 1.03, 1.37, 1.58, 1.86, 2.08, 2.13, 2.33, 2.64, 2.95, 3.27, 3.71, 4.13, 4.35, 4.57, 4.82, 5.13, 5.55, 5.95]],
  [47, [0.12, 0.41, 0.66, 0.77, 1.15, 1.45, 1.7, 2.02, 2.15, 2.42, 2.59, 2.86, 3.38, 3.55, 4.1, 4.14, 4.26, 4.66, 4.91, 5.33, 5.68]],
  [41, [0.16, 0.27, 0.47, 0.85, 0.97, 1.31, 1.53, 1.91, 2.12, 2.21, 2.52, 2.77, 2.98, 3.21, 3.49, 3.91, 4.12, 4.38, 4.53, 4.78, 5.06, 5.84]],
  [35, [0.14, 0.33, 0.55, 0.71, 0.89, 1.4, 1.66, 2.11, 2.3, 2.44, 2.68, 2.92, 3.12, 3.59, 3.78, 4.11, 4.16, 4.47, 4.69, 4.96, 5.28, 5.72]],
  [49, [0.11, 0.2, 0.43, 0.62, 0.93, 1.06, 1.27, 1.57, 1.82, 2.13, 2.36, 2.61, 2.83, 3.33, 3.68, 4.13, 4.24, 4.41, 4.6, 4.84, 5.46, 5.93]],
  [43, [0.15, 0.38, 0.54, 0.76, 0.99, 1.46, 1.74, 1.98, 2.09, 2.14, 2.47, 2.72, 2.89, 3.42, 3.85, 4.12, 4.31, 4.55, 4.74, 4.97, 5.37, 5.65]],
  [37, [0.13, 0.29, 0.49, 0.68, 0.82, 1.12, 1.35, 1.62, 2.12, 2.26, 2.55, 2.79, 3.02, 3.25, 3.52, 3.94, 4.1, 4.15, 4.44, 4.63, 4.88, 5.19, 5.8]],
  [46, [0.14, 0.36, 0.59, 0.9, 1.18, 1.5, 1.79, 2.11, 2.39, 2.65, 2.94, 3.3, 3.64, 4.13, 4.28, 4.5, 4.77, 4.93, 5.52, 5.98]],
  [40, [0.12, 0.16, 0.27, 0.45, 0.64, 0.81, 0.96, 1.39, 1.68, 1.92, 2.13, 2.31, 2.5, 2.74, 2.88, 3.17, 3.46, 3.79, 4.11, 4.14, 4.36, 4.58, 4.71, 4.9, 5.34, 5.71, 5.88]],
  [34, [0.15, 0.4, 0.57, 0.74, 0.92, 1.25, 1.55, 1.85, 2.1, 2.22, 2.46, 2.69, 2.97, 3.37, 3.59, 4.12, 4.25, 4.47, 4.65, 4.86, 5.05, 5.6]],
  [48, [0.13, 0.31, 0.5, 0.66, 0.86, 1.09, 1.43, 1.73, 2.12, 2.15, 2.35, 2.58, 2.82, 3.08, 3.51, 3.88, 4.13, 4.39, 4.56, 4.79, 4.95, 5.42, 5.77]],
  [42, [0.14, 0.23, 0.44, 0.61, 0.79, 0.98, 1.33, 1.6, 1.96, 2.11, 2.28, 2.53, 2.75, 2.91, 3.26, 3.69, 4.1, 4.15, 4.32, 4.52, 4.73, 4.91, 5.25, 5.82]],
  [36, [0.12, 0.37, 0.53, 0.72, 0.88, 1.2, 1.47, 1.81, 2.13, 2.41, 2.62, 2.85, 3.14, 3.44, 3.74, 4.12, 4.29, 4.48, 4.67, 4.84, 5.15, 5.57, 5.94]],
  [45, [0.16, 0.28, 0.48, 0.69, 0.94, 1.36, 1.64, 1.89, 2.12, 2.24, 2.5, 2.71, 2.96, 3.32, 3.58, 3.9, 4.11, 4.14, 4.37, 4.61, 4.82, 5.31, 5.69]],
  [39, [0.13, 0.34, 0.56, 0.78, 0.91, 1.29, 1.52, 1.76, 2.09, 2.14, 2.33, 2.57, 2.8, 3.04, 3.48, 3.81, 4.13, 4.26, 4.45, 4.7, 4.94, 5.48, 5.86]],
  [33, [0.15, 0.26, 0.46, 0.63, 0.84, 1.41, 1.7, 2.12, 2.29, 2.44, 2.66, 2.88, 3.2, 3.63, 4.12, 4.18, 4.4, 4.59, 4.76, 4.89, 5.36, 5.75]],
  [31, [0.11, 0.32, 0.51, 0.75, 0.97, 1.17, 1.48, 1.84, 2.11, 2.37, 2.54, 2.78, 2.99, 3.39, 3.55, 3.96, 4.1, 4.13, 4.33, 4.54, 4.81, 5.58, 5.91]],
  [25, [0.14, 0.42, 0.58, 0.7, 0.87, 1.38, 1.63, 1.93, 2.13, 2.25, 2.48, 2.7, 2.93, 3.29, 3.72, 4.12, 4.3, 4.51, 4.68, 4.92, 5.24, 5.66]],
  [19, [0.13, 0.17, 0.3, 0.52, 0.65, 0.83, 0.99, 1.44, 1.78, 2.1, 2.14, 2.4, 2.6, 2.84, 3.11, 3.47, 3.84, 4.11, 4.15, 4.27, 4.49, 4.72, 4.87, 5.44, 5.79]],
  [28, [0.15, 0.39, 0.6, 0.8, 0.93, 1.32, 1.57, 1.88, 2.12, 2.32, 2.56, 2.76, 2.97, 3.35, 3.61, 4.13, 4.34, 4.57, 4.77, 4.95, 5.33, 5.97]],
  [22, [0.12, 0.25, 0.45, 0.67, 0.86, 1.26, 1.54, 1.8, 2.11, 2.23, 2.45, 2.67, 2.9, 3.23, 3.53, 3.92, 4.12, 4.41, 4.62, 4.83, 5.12, 5.63]],
  [16, [0.16, 0.36, 0.55, 0.76, 0.95, 1.47, 1.71, 2.13, 2.36, 2.58, 2.83, 3.0, 3.41, 3.77, 4.1, 4.14, 4.28, 4.53, 4.71, 4.9, 5.39, 5.88]],
  [30, [0.14, 0.29, 0.5, 0.69, 0.89, 1.35, 1.6, 1.97, 2.12, 2.27, 2.51, 2.73, 2.95, 3.28, 3.66, 4.13, 4.23, 4.46, 4.64, 4.85, 5.21, 5.74]],
  [24, [0.13, 0.4, 0.57, 0.73, 0.85, 1.42, 1.66, 2.1, 2.15, 2.34, 2.62, 2.81, 3.16, 3.5, 3.86, 4.11, 4.35, 4.58, 4.8, 4.96, 5.47]],
  [18, [0.15, 0.22, 0.47, 0.64, 0.82, 0.98, 1.3, 1.55, 1.87, 2.12, 2.29, 2.49, 2.7, 2.92, 3.36, 3.6, 3.95, 4.12, 4.15, 4.32, 4.5, 4.74, 4.91, 5.3, 5.83]],
  [27, [0.12, 0.33, 0.53, 0.71, 0.9, 1.39, 1.76, 2.11, 2.38, 2.55, 2.79, 2.98, 3.24, 3.56, 4.13, 4.27, 4.44, 4.66, 4.86, 5.56, 5.95]],
  [21, [0.14, 0.27, 0.43, 0.62, 0.79, 0.94, 1.46, 1.69, 1.94, 2.13, 2.22, 2.43, 2.64, 2.87, 3.31, 3.73, 4.1, 4.14, 4.38, 4.6, 4.78, 4.94, 5.17, 5.64]],
  [15, [0.16, 0.37, 0.56, 0.74, 0.96, 1.34, 1.61, 1.86, 2.12, 2.31, 2.57, 2.75, 2.93, 3.45, 3.82, 4.12, 4.29, 4.52, 4.69, 4.88, 5.38, 5.92]],
  [32, [0.13, 0.28, 0.49, 0.66, 0.87, 1.43, 1.72, 2.1, 2.14, 2.35, 2.52, 2.77, 2.96, 3.19, 3.52, 3.89, 4.11, 4.25, 4.47, 4.63, 4.83, 5.27, 5.7]],
  [26, [0.15, 0.35, 0.54, 0.77, 0.92, 1.37, 1.58, 1.9, 2.12, 2.26, 2.46, 2.68, 2.86, 3.34, 3.64, 4.13, 4.16, 4.36, 4.55, 4.76, 4.97, 5.49, 5.85]],
  [20, [0.12, 0.22, 0.42, 0.6, 0.84, 0.99, 1.48, 1.79, 2.11, 2.39, 2.61, 2.82, 3.07, 3.43, 3.79, 4.12, 4.31, 4.49, 4.7, 4.89, 5.2, 5.6]],
  [29, [0.14, 0.31, 0.5, 0.72, 0.88, 1.4, 1.65, 1.98, 2.13, 2.28, 2.54, 2.74, 2.94, 3.27, 3.58, 4.1, 4.14, 4.27, 4.45, 4.65, 4.86, 5.35, 5.78]],
  [23, [0.06, 0.16, 0.38, 0.58, 0.75, 0.94, 1.33, 1.62, 1.88, 2.12, 2.33, 2.48, 2.7, 2.9, 3.37, 3.7, 4.12, 4.34, 4.56, 4.79, 4.95, 5.43, 5.9]],
  [17, [0.13, 0.27, 0.46, 0.65, 0.83, 1.45, 1.73, 2.1, 2.15, 2.42, 2.63, 2.84, 3.0, 3.3, 3.62, 3.93, 4.13, 4.24, 4.42, 4.61, 4.84, 5.24, 5.58, 5.97]],
  [13, [0.15, 0.34, 0.55, 0.7, 0.91, 1.38, 1.56, 1.85, 2.12, 2.3, 2.5, 2.72, 2.95, 3.4, 3.76, 4.11, 4.15, 4.37, 4.54, 4.73, 4.92, 5.47, 5.81]],
  [9, [0.12, 0.29, 0.44, 0.63, 0.8, 0.97, 1.48, 1.7, 2.13, 2.36, 2.58, 2.8, 3.13, 3.55, 4.12, 4.28, 4.48, 4.67, 4.87, 5.33, 5.68]],
  [5, [0.14, 0.36, 0.52, 0.73, 0.89, 1.43, 1.77, 2.11, 2.25, 2.45, 2.66, 2.88, 3.22, 3.48, 3.86, 4.1, 4.14, 4.32, 4.57, 4.76, 4.94, 5.39, 5.75]],
  [11, [0.13, 0.17, 0.3, 0.48, 0.68, 0.86, 1.21, 1.23, 1.52, 1.83, 2.12, 2.34, 2.53, 2.77, 2.97, 3.35, 3.67, 4.13, 4.25, 4.44, 4.62, 4.81, 5.28, 5.92]],
  [7, [0.15, 0.32, 0.57, 0.75, 0.93, 1.42, 1.64, 2.1, 2.14, 2.29, 2.51, 2.69, 2.91, 3.28, 3.58, 3.97, 4.12, 4.36, 4.53, 4.72, 4.9, 5.5, 5.84]],
  [14, [0.12, 0.26, 0.45, 0.66, 0.82, 1.37, 1.59, 1.92, 2.13, 2.4, 2.6, 2.79, 2.99, 3.42, 3.74, 4.11, 4.14, 4.3, 4.49, 4.68, 4.85, 5.2, 5.63]],
  [10, [0.14, 0.38, 0.53, 0.71, 0.88, 1.46, 1.8, 2.12, 2.27, 2.47, 2.73, 2.94, 3.24, 3.52, 3.91, 4.13, 4.38, 4.59, 4.79, 4.96, 5.43, 5.98]],
  [6, [0.16, 0.28, 0.49, 0.61, 0.84, 0.95, 1.51, 1.74, 2.11, 2.32, 2.56, 2.83, 3.33, 3.63, 4.12, 4.27, 4.46, 4.66, 4.88, 5.37, 5.86]],
  [12, [0.13, 0.34, 0.56, 0.78, 0.97, 1.44, 1.68, 2.13, 2.38, 2.59, 2.8, 3.17, 3.46, 3.82, 4.1, 4.15, 4.34, 4.55, 4.75, 4.93, 5.55, 5.88]],
  [8, [0.15, 0.24, 0.43, 0.62, 0.85, 0.98, 1.62, 2.12, 2.28, 2.52, 2.77, 2.95, 3.26, 3.57, 4.13, 4.3, 4.51, 4.71, 4.9, 5.47, 5.93]],
]
const rateG: Pt[] = [
  [0, 0.5], [0.05, 3], [0.1, 15], [0.15, 22.5], [0.19, 22], [0.23, 10], [0.28, 1], [0.33, 3], [0.38, 5], [0.45, 5],
  [0.52, 7], [0.57, 11], [0.62, 8], [0.67, 6], [0.7, 8], [0.75, 6], [0.8, 5.5], [0.87, 8], [0.93, 9], [0.97, 7],
  [1.0, 5], [1.05, 1], [1.08, 0], [1.15, 1.5], [1.25, 2.5], [1.35, 4], [1.45, 6.5], [1.55, 6.5], [1.63, 6], [1.7, 4.5],
  [1.75, 5], [1.8, 3], [1.9, 4], [1.97, 3.5], [2.02, 5], [2.08, 15], [2.13, 25.5], [2.18, 15], [2.23, 6], [2.3, 4],
  [2.38, 8], [2.42, 10], [2.5, 11], [2.55, 10], [2.6, 9], [2.65, 7], [2.72, 8], [2.78, 11], [2.85, 9.5], [2.9, 10],
  [2.97, 9.5], [3.02, 6], [3.08, 3], [3.12, 0], [3.17, 0.5], [3.22, 2.5], [3.3, 3], [3.38, 5], [3.45, 7], [3.52, 6],
  [3.6, 6.5], [3.67, 3.5], [3.75, 5], [3.82, 3], [3.88, 3], [3.95, 2.5], [4.0, 5], [4.06, 18], [4.12, 27.5], [4.18, 20],
  [4.23, 9], [4.3, 5], [4.38, 9], [4.47, 13.5], [4.53, 11], [4.6, 6], [4.7, 10], [4.77, 7], [4.85, 9.5], [4.92, 8],
  [4.98, 5], [5.03, 2], [5.08, 0], [5.15, 1], [5.25, 1], [5.32, 4], [5.45, 4.5], [5.52, 5.5], [5.58, 5], [5.62, 5.5],
  [5.68, 2.5], [5.75, 0.5], [5.82, 2.5], [5.9, 3.5], [5.96, 2.5], [6.0, 1.5],
]

// ---------- (H) SBL OFF sust 20 µM L-AP4 ----------
const spikesH: Pt[] = [[6.0, -1]]
const rowsH: Row[] = [
  [47, [0.05, 0.19, 0.46, 0.58, 0.97, 1.12, 1.5, 1.71, 1.79, 2.24, 2.42, 2.87, 3.03, 3.41, 3.86, 3.98, 4.33, 4.55, 4.92, 5.05, 5.46, 5.69]],
  [50, [0.12, 0.33, 0.71, 0.88, 1.29, 1.42, 1.93, 2.06, 2.3, 2.64, 2.79, 3.17, 3.58, 3.72, 4.1, 4.48, 4.63, 4.84, 5.21, 5.78]],
  [42, [0.09, 0.27, 0.39, 0.66, 1.03, 1.23, 1.58, 1.84, 2.15, 2.51, 2.69, 2.95, 3.33, 3.49, 3.91, 4.2, 4.39, 4.77, 5.1, 5.35, 5.9]],
  [45, [0.16, 0.48, 0.62, 0.93, 1.36, 1.66, 1.99, 2.12, 2.46, 2.83, 3.08, 3.26, 3.64, 3.8, 4.13, 4.58, 4.71, 5.0, 5.28, 5.61]],
  [39, [0.07, 0.22, 0.55, 0.8, 1.09, 1.45, 1.56, 1.88, 2.27, 2.58, 2.74, 3.12, 3.44, 3.69, 4.03, 4.27, 4.52, 4.9, 5.17, 5.52, 5.83]],
  [48, [0.13, 0.36, 0.69, 0.95, 1.18, 1.61, 1.76, 2.08, 2.39, 2.62, 2.91, 3.22, 3.55, 3.95, 4.15, 4.42, 4.68, 4.97, 5.39, 5.71, 5.96]],
  [36, [0.04, 0.28, 0.44, 0.73, 1.01, 1.31, 1.52, 1.95, 2.2, 2.48, 2.8, 3.01, 3.38, 3.62, 3.88, 4.24, 4.57, 4.83, 5.12, 5.44, 5.64]],
  [43, [0.11, 0.2, 0.51, 0.86, 1.14, 1.39, 1.69, 2.01, 2.33, 2.55, 2.96, 3.15, 3.5, 3.75, 4.09, 4.36, 4.61, 4.94, 5.25, 5.58, 5.88]],
  [49, [0.15, 0.41, 0.6, 0.91, 1.25, 1.48, 1.81, 2.1, 2.43, 2.71, 3.06, 3.29, 3.57, 3.92, 4.18, 4.46, 4.74, 5.06, 5.32, 5.74]],
  [40, [0.08, 0.3, 0.53, 0.77, 1.06, 1.33, 1.64, 1.9, 2.23, 2.52, 2.86, 3.11, 3.43, 3.66, 4.0, 4.3, 4.55, 4.8, 5.15, 5.47, 5.79]],
  [34, [0.13, 0.25, 0.47, 0.68, 0.99, 1.2, 1.55, 1.83, 2.14, 2.37, 2.67, 2.93, 3.24, 3.52, 3.83, 4.12, 4.4, 4.66, 4.99, 5.29, 5.62, 5.92]],
  [46, [0.06, 0.35, 0.58, 0.84, 1.11, 1.43, 1.72, 2.05, 2.29, 2.6, 2.88, 3.18, 3.46, 3.78, 4.07, 4.34, 4.62, 4.91, 5.2, 5.55]],
  [41, [0.17, 0.4, 0.52, 0.92, 1.27, 1.35, 1.78, 2.09, 2.18, 2.65, 2.99, 3.07, 3.55, 3.85, 3.93, 4.44, 4.7, 4.79, 5.36, 5.68, 5.97]],
  [37, [0.1, 0.29, 0.45, 0.74, 1.04, 1.37, 1.46, 1.96, 2.22, 2.5, 2.56, 3.09, 3.39, 3.47, 3.98, 4.27, 4.35, 4.86, 5.13, 5.21, 5.77]],
  [44, [0.14, 0.32, 0.37, 0.81, 1.15, 1.22, 1.69, 2.02, 2.08, 2.63, 2.9, 2.96, 3.5, 3.81, 4.11, 4.19, 4.65, 4.95, 5.03, 5.59, 5.86]],
  [38, [0.05, 0.23, 0.5, 0.61, 0.98, 1.3, 1.58, 1.64, 2.16, 2.44, 2.53, 3.04, 3.34, 3.42, 3.94, 4.21, 4.29, 4.79, 5.09, 5.18, 5.72]],
  [33, [0.12, 0.38, 0.44, 0.88, 1.19, 1.26, 1.8, 2.07, 2.15, 2.68, 2.97, 3.28, 3.36, 3.88, 4.14, 4.47, 4.55, 5.01, 5.31, 5.64, 5.93]],
  [35, [0.09, 0.21, 0.57, 0.66, 1.08, 1.41, 1.92, 2.25, 2.31, 2.77, 3.13, 3.68, 3.99, 4.07, 4.58, 4.85, 5.42, 5.8]],
  [29, [0.14, 0.43, 0.49, 0.96, 1.21, 1.61, 2.11, 2.39, 2.92, 3.23, 3.31, 3.79, 4.1, 4.37, 4.98, 5.26, 5.87]],
  [24, [0.07, 0.26, 0.79, 1.07, 1.14, 1.66, 1.98, 2.56, 2.84, 2.91, 3.45, 3.73, 4.04, 4.12, 4.6, 4.88, 5.49, 5.95]],
  [32, [0.12, 0.31, 0.53, 1.0, 1.28, 1.86, 2.17, 2.24, 2.72, 3.0, 3.58, 3.89, 4.17, 4.73, 5.04, 5.12, 5.65]],
  [19, [0.04, 0.18, 0.45, 0.87, 1.43, 1.72, 1.8, 2.32, 2.61, 3.16, 3.47, 3.54, 4.02, 4.32, 4.9, 5.19, 5.84]],
  [27, [0.11, 0.36, 0.74, 1.12, 1.19, 1.65, 1.95, 2.49, 2.8, 2.86, 3.37, 3.64, 4.14, 4.46, 4.53, 5.06, 5.35, 5.97]],
  [30, [0.15, 0.27, 0.62, 1.02, 1.31, 1.84, 2.14, 2.21, 2.66, 2.98, 3.52, 3.83, 3.9, 4.35, 4.64, 5.24, 5.53]],
  [22, [0.08, 0.22, 0.48, 0.94, 1.25, 1.32, 1.76, 2.09, 2.58, 2.93, 3.0, 3.42, 3.76, 4.26, 4.59, 4.66, 5.15, 5.45, 5.92]],
  [17, [0.13, 0.29, 0.66, 1.06, 1.4, 1.9, 2.2, 2.27, 2.75, 3.06, 3.61, 3.96, 4.11, 4.43, 4.79, 5.31, 5.88]],
  [25, [0.06, 0.2, 0.41, 0.83, 1.16, 1.53, 1.6, 2.03, 2.36, 2.85, 3.18, 3.25, 3.7, 4.06, 4.2, 4.55, 4.9, 5.38, 5.7]],
  [31, [0.12, 0.34, 0.7, 1.24, 1.5, 1.98, 2.29, 2.62, 2.97, 3.33, 3.86, 4.14, 4.41, 4.75, 4.83, 5.2, 5.58]],
  [20, [0.1, 0.25, 0.55, 0.9, 1.2, 1.69, 1.74, 2.17, 2.53, 2.9, 3.1, 3.52, 3.93, 4.24, 4.6, 4.97, 5.47, 5.9]],
  [28, [0.15, 0.39, 0.78, 1.08, 1.47, 1.88, 2.08, 2.44, 2.82, 3.27, 3.59, 4.01, 4.12, 4.5, 4.87, 5.3, 5.76]],
  [15, [0.05, 0.18, 0.61, 0.97, 1.34, 1.57, 2.12, 2.41, 2.69, 3.05, 3.44, 3.81, 4.17, 4.39, 4.7, 5.02, 5.62]],
  [23, [0.13, 0.3, 0.49, 0.85, 1.26, 1.79, 2.0, 2.35, 2.78, 3.2, 3.66, 3.95, 4.08, 4.52, 4.93, 5.41]],
  [26, [0.09, 0.23, 0.69, 1.13, 1.45, 1.67, 2.14, 2.57, 2.94, 3.36, 3.74, 4.13, 4.28, 4.63, 4.86, 5.25, 5.86]],
  [18, [0.14, 0.44, 0.82, 1.02, 1.38, 1.92, 2.26, 2.7, 3.08, 3.48, 3.9, 4.09, 4.45, 4.78, 5.14, 5.66]],
  [21, [0.07, 0.19, 0.58, 0.95, 1.3, 1.63, 2.05, 2.47, 2.88, 3.29, 3.55, 4.0, 4.16, 4.57, 4.95, 5.36]],
  [16, [0.12, 0.35, 0.72, 1.17, 1.52, 1.85, 2.18, 2.6, 2.99, 3.4, 3.78, 4.11, 4.33, 4.68, 5.07, 5.52, 5.94]],
  [10, [0.1, 0.26, 0.64, 1.04, 1.42, 1.75, 2.1, 2.38, 2.8, 3.13, 3.62, 4.05, 4.12, 4.49, 4.84, 5.09]],
  [6, [0.15, 0.31, 0.52, 0.88, 1.27, 1.59, 2.02, 2.33, 2.73, 3.24, 3.7, 3.98, 4.14, 4.62, 4.9, 5.74]],
  [13, [0.06, 0.2, 0.47, 0.8, 1.22, 1.68, 2.15, 2.51, 2.91, 3.34, 3.85, 4.1, 4.27, 4.71, 4.97, 5.31]],
  [8, [0.11, 0.16, 0.4, 0.76, 1.1, 1.49, 1.91, 2.21, 2.67, 3.07, 3.5, 3.92, 4.13, 4.4, 4.81, 5.58]],
  [12, [0.13, 0.28, 0.6, 0.99, 1.37, 1.8, 2.06, 2.45, 2.86, 3.21, 3.64, 4.08, 4.15, 4.56, 4.92, 5.43]],
  [5, [0.08, 0.17, 0.53, 0.93, 1.33, 1.72, 2.13, 2.55, 2.96, 3.35, 3.81, 4.12, 4.35, 4.75, 5.02]],
  [14, [0.12, 0.38, 0.68, 1.01, 1.44, 1.86, 2.23, 2.64, 3.03, 3.46, 3.88, 4.1, 4.5, 4.89, 5.5]],
  [9, [0.14, 0.24, 0.55, 0.9, 1.28, 1.64, 2.09, 2.4, 2.79, 3.16, 3.59, 4.03, 4.14, 4.6, 4.94]],
  [11, [0.09, 0.33, 0.75, 1.15, 1.55, 1.97, 2.3, 2.71, 3.11, 3.53, 3.9, 4.12, 4.42, 4.82, 5.62]],
  [7, [0.07, 0.22, 0.48, 0.97, 1.23, 1.65, 2.19, 2.58, 2.89, 3.42, 3.72, 4.11, 4.52, 4.85, 5.17]],
]
const rateH: Pt[] = [
  [0, 6], [0.05, 8], [0.1, 9], [0.14, 16], [0.18, 9], [0.25, 8.5], [0.3, 8], [0.35, 4], [0.45, 3.5], [0.55, 8],
  [0.6, 10], [0.65, 8.5], [0.72, 5], [0.8, 8.5], [0.87, 7], [0.95, 6], [1.0, 6], [1.08, 5.5], [1.15, 8.5], [1.22, 6],
  [1.3, 4], [1.38, 5], [1.45, 6], [1.52, 4.5], [1.62, 6], [1.7, 6.5], [1.75, 5.5], [1.85, 7], [1.92, 5.5], [2.0, 7.5],
  [2.05, 7], [2.12, 12.5], [2.18, 8], [2.25, 7], [2.35, 8], [2.42, 6], [2.5, 7], [2.55, 9], [2.62, 9], [2.7, 8.5],
  [2.75, 10], [2.8, 8.5], [2.85, 11], [2.9, 11.5], [2.97, 8], [3.05, 7.5], [3.12, 5], [3.2, 4.5], [3.28, 3.5], [3.35, 8],
  [3.42, 7], [3.5, 6], [3.58, 7.5], [3.65, 5], [3.72, 7], [3.8, 5], [3.88, 6], [3.95, 6], [4.02, 9], [4.1, 14.5],
  [4.17, 7], [4.23, 8.5], [4.3, 7], [4.38, 5.5], [4.45, 7], [4.55, 11], [4.62, 9], [4.7, 7], [4.75, 8.5], [4.8, 7.5],
  [4.88, 9], [4.95, 5.5], [5.02, 5], [5.1, 5.5], [5.18, 4], [5.25, 6], [5.32, 4], [5.4, 5.5], [5.47, 3.5], [5.52, 5],
  [5.6, 3], [5.68, 5], [5.75, 3], [5.8, 4], [5.85, 6.5], [5.9, 4], [5.95, 4], [6.0, 5],
]

const ticks20 = [0, 10, 20]
const minor20 = [5, 15]
const ticks60 = [0, 20, 40, 60]
const minor60 = [10, 30, 50]
const ticks30 = [0, 10, 20, 30]
const minor30 = [5, 15, 25]

const panels = [
  { tag: '(A)', bold: true, title: 'ON transient control', col: 0, row: 0, spikes: spikesA, rows: [] as Row[], rate: rateA, rMax: 20, rTicks: ticks20, rMinor: minor20 },
  { tag: '(B)', bold: false, title: 'ON transient 20 μM L-AP4', col: 1, row: 0, spikes: spikesB, rows: [] as Row[], rate: rateB, rMax: 20, rTicks: ticks20, rMinor: minor20 },
  { tag: '(C)', bold: false, title: 'OFF control', col: 0, row: 1, spikes: spikesC, rows: burstsC, rate: rateC, rMax: 20, rTicks: ticks20, rMinor: minor20 },
  { tag: '(D)', bold: true, title: 'OFF 20 μM L-AP4', col: 1, row: 1, spikes: spikesD, rows: [] as Row[], rate: rateD, rMax: 20, rTicks: ticks20, rMinor: minor20 },
  { tag: '(E)', bold: false, title: 'SBL OFF trans control', col: 0, row: 2, spikes: spikesE, rows: burstsE, rate: rateE, rMax: 60, rTicks: ticks60, rMinor: minor60 },
  { tag: '(F)', bold: true, title: 'SBL OFF trans 20 μM L-AP4', col: 1, row: 2, spikes: spikesF, rows: burstsF, rate: rateF, rMax: 60, rTicks: ticks60, rMinor: minor60 },
  { tag: '(G)', bold: true, title: 'SBL OFF sust control', col: 0, row: 3, spikes: spikesG, rows: rowsG, rate: rateG, rMax: 30, rTicks: ticks30, rMinor: minor30 },
  { tag: '(H)', bold: true, title: 'SBL OFF sust 20 μM L-AP4', col: 1, row: 3, spikes: spikesH, rows: rowsH, rate: rateH, rMax: 30, rTicks: ticks30, rMinor: minor30 },
]

// layout (pixels)
const frame: Record<string, { x0: number; w: number }> = {
  '(A)': { x0: 60, w: 574 }, '(B)': { x0: 745, w: 575 },
  '(C)': { x0: 61.3, w: 572 }, '(D)': { x0: 746, w: 574 },
  '(E)': { x0: 61.3, w: 569 }, '(F)': { x0: 746.5, w: 574 },
  '(G)': { x0: 64, w: 575 }, '(H)': { x0: 753.4, w: 571 },
}
const rowLayout = [
  { top: 61, zero: 258, rTop: 295.5, rBot: 377.5, titleY: 33, tagY: 29 },
  { top: 486.3, zero: 680.5, rTop: 715.2, rBot: 794.3, titleY: 456, tagY: 450 },
  { top: 911.6, zero: 1106, rTop: 1140.8, rBot: 1221, titleY: 884, tagY: 881 },
  { top: 1342, zero: 1536.4, rTop: 1571, rBot: 1647, titleY: 1309, tagY: 1304 },
]
const colLayout = [
  { titleX: 336, tagX: 10.5 },
  { titleX: 1017.5, tagX: 689 },
]

const SANS = "'Liberation Sans', Arial, Helvetica, sans-serif"
const NARROW = "'Liberation Sans Narrow', 'Arial Narrow', 'Liberation Sans', sans-serif"
const stimColor: Record<string, string> = { dark: '#000000', mid: '#585858', light: '#a9a9a9' }
const RED = '#e5303c'
const AXIS = '#333'

function Panel({ p }: { p: (typeof panels)[number] }) {
  const r = rowLayout[p.row]
  const c = colLayout[p.col]
  const f = frame[p.tag]
  const x = d3.scaleLinear().domain([0, 6]).range([f.x0, f.x0 + f.w])
  const yT = d3.scaleLinear().domain([0, 50]).range([r.zero, r.top])
  const yR = d3.scaleLinear().domain([0, p.rMax]).range([r.rBot, r.rTop])
  const line = d3.line<Pt>().x(d => x(d[0])).y(d => yR(d[1])).curve(d3.curveMonotoneX)
  const barTop = r.zero - 3.5
  const barH = 11

  const allSpikes: Pt[] = p.spikes.concat(
    p.rows.flatMap(([trial, times]) => times.map(t => [t, trial] as Pt))
  )
  const ax = f.x0
  const labelX = ax - 31
  const rateLabelY = Math.min(r.rBot - 42, 1588)

  return (
    <g>
      <text x={c.tagX} y={r.tagY} fontSize={24} fontWeight={p.bold ? 'bold' : 'normal'} fontFamily={SANS} fill="#111">
        {p.tag}
      </text>
      <text x={c.titleX} y={r.titleY} fontSize={27} textAnchor="middle" fontFamily={SANS} fill="#111">
        {p.title}
      </text>

      {/* raster */}
      <g>
        {allSpikes.map((d, i) => (
          <rect key={i} x={x(d[0]) - 0.9} y={yT(d[1]) - 2.4} width={1.8} height={4.8} fill="#000" />
        ))}
        {stimEdges.map(e => (
          <line key={e} x1={x(e)} x2={x(e)} y1={yT(50)} y2={barTop} stroke={RED} strokeWidth={1.5} />
        ))}
        {stimSteps.map(s => (
          <rect key={s.from} x={x(s.from)} y={barTop} width={x(s.to) - x(s.from)} height={barH} fill={stimColor[s.level]} />
        ))}
        <line x1={ax} x2={ax} y1={yT(50)} y2={barTop} stroke={AXIS} strokeWidth={1} />
        {trialTicks.map(t => (
          <g key={t}>
            <line x1={ax} x2={ax + 5} y1={yT(t)} y2={yT(t)} stroke={AXIS} strokeWidth={1} />
            <text x={ax - 5} y={yT(t) + 5.7} textAnchor="end" fontSize={16} fontFamily={NARROW} fill="#222">{t}</text>
          </g>
        ))}
        {trialMinor.map(t => (
          <line key={t} x1={ax} x2={ax + 3.5} y1={yT(t)} y2={yT(t)} stroke={AXIS} strokeWidth={0.8} />
        ))}
        {timeTicks.map(t => (
          <text key={t} x={x(t) + 1} y={r.zero + 25} textAnchor="middle" fontSize={16} fontFamily={NARROW} fill="#222">{t}</text>
        ))}
        <text
          transform={`translate(${labelX},${r.top + 91}) rotate(-90)`}
          textAnchor="middle" fontSize={19} fontFamily={SANS} fill="#222"
        >
          Trial number
        </text>
      </g>

      {/* firing rate */}
      <g>
        <line x1={ax} x2={x(6)} y1={yR(0)} y2={yR(0)} stroke="#9a9a9a" strokeWidth={1.6} />
        <line x1={ax} x2={ax} y1={yR(0)} y2={yR(p.rMax)} stroke={AXIS} strokeWidth={1} />
        {p.rTicks.map(t => (
          <g key={t}>
            <line x1={ax} x2={ax + 5} y1={yR(t)} y2={yR(t)} stroke={AXIS} strokeWidth={1} />
            <text x={ax - 5} y={yR(t) + 5.7} textAnchor="end" fontSize={16} fontFamily={NARROW} fill="#222">{t}</text>
          </g>
        ))}
        {p.rMinor.map(t => (
          <line key={t} x1={ax} x2={ax + 3.5} y1={yR(t)} y2={yR(t)} stroke={AXIS} strokeWidth={0.8} />
        ))}
        <path d={line(p.rate) || ''} fill="none" stroke="#111" strokeWidth={1.4} />
        <text
          transform={`translate(${labelX},${rateLabelY}) rotate(-90)`}
          textAnchor="middle" fontSize={19} fontFamily={SANS} fill="#222"
        >
          Firing rate (Hz)
        </text>
      </g>
    </g>
  )
}

export default function App() {
  return (
    <svg
      width={1343}
      height={1657}
      viewBox="0 0 1343 1657"
      style={{ position: 'absolute', left: 0, top: 0, background: '#fff' }}
    >
      <rect width={1343} height={1657} fill="#fff" />
      {panels.map(p => (
        <Panel key={p.tag} p={p} />
      ))}
    </svg>
  )
}
